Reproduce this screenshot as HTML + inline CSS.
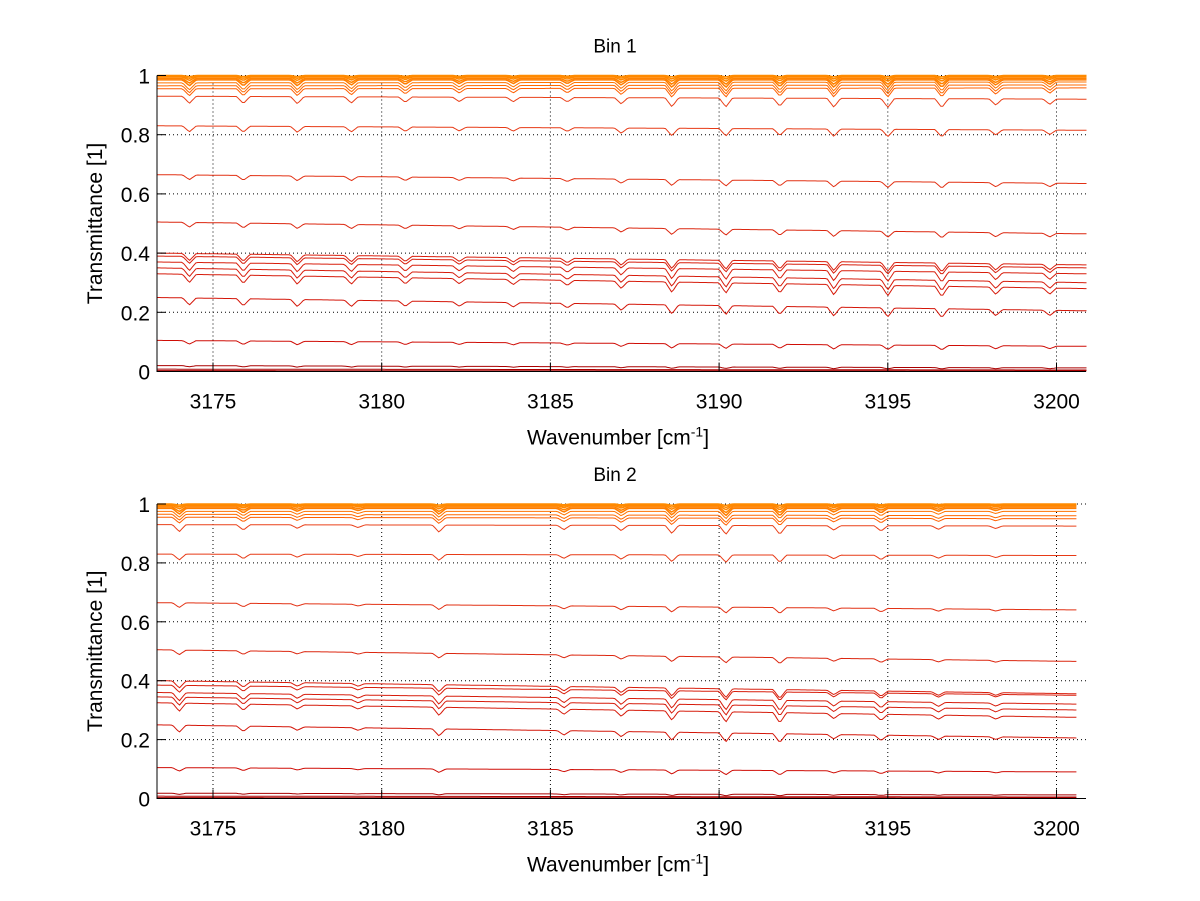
<!DOCTYPE html>
<html><head><meta charset="utf-8"><style>
body{margin:0;background:#fff;}
svg{display:block;font-family:"Liberation Sans",sans-serif;}
</style></head><body>
<svg id="fig" width="1200" height="901" viewBox="0 0 1200 901"></svg>
<script>
// ---- data ----
const xTicks = [3175, 3180, 3185, 3190, 3195, 3200];
const yTicks = [0, 0.2, 0.4, 0.6, 0.8, 1];
const yTickLabels = ["0", "0.2", "0.4", "0.6", "0.8", "1"];
// absorption line centers (cm^-1) and relative strengths
const dipCenters1 = [3174.3,3175.9,3177.5,3179.1,3180.7,3182.3,3183.9,3185.5,3187.1,3188.6,3190.2,3191.8,3193.4,3195.0,3196.6,3198.2,3199.8];
const dipStrength1 = [0.8,0.8,0.8,0.7,0.6,0.5,0.5,0.5,0.7,1.0,1.0,0.9,1.0,1.0,1.0,0.7,0.6];
const dipCenters2 = [3174.0,3175.9,3177.5,3179.3,3181.7,3185.4,3187.1,3188.6,3190.2,3191.8,3193.4,3194.8,3196.5,3198.2];
const dipStrength2 = [0.8,0.6,0.4,0.3,0.8,0.5,0.6,0.9,1.0,1.0,0.5,0.6,0.4,0.3];
// series: level at left edge, level at right edge, dip depth
const startLevels1 = [1.0,0.998,0.995,0.99,0.985,0.975,0.965,0.955,0.93,0.83,0.665,0.505,0.40,0.39,0.37,0.35,0.33,0.25,0.105,0.02,0.008,0.003];
const endLevels1   = [1.0,0.998,0.995,0.99,0.985,0.978,0.968,0.958,0.92,0.815,0.635,0.465,0.36,0.35,0.33,0.30,0.28,0.205,0.085,0.012,0.005,0.002];
const dipDepth1    = [0.005,0.01,0.015,0.02,0.025,0.03,0.03,0.03,0.03,0.025,0.02,0.02,0.03,0.03,0.035,0.035,0.035,0.03,0.015,0.005,0,0];
const startLevels2 = [1.0,0.998,0.995,0.99,0.985,0.975,0.965,0.955,0.93,0.83,0.665,0.505,0.40,0.385,0.36,0.345,0.325,0.25,0.105,0.018,0.008,0.003];
const endLevels2   = [1.0,0.998,0.995,0.99,0.985,0.975,0.96,0.95,0.925,0.825,0.64,0.465,0.355,0.35,0.32,0.30,0.275,0.205,0.09,0.012,0.005,0.002];
const dipDepth2    = [0.005,0.01,0.015,0.02,0.025,0.025,0.025,0.025,0.03,0.025,0.02,0.02,0.03,0.03,0.035,0.035,0.035,0.03,0.015,0.005,0,0];

const NS = "http://www.w3.org/2000/svg";
const svg = document.getElementById("fig");
const X0 = 3173.35, X1 = 3200.92;
function mk(tag, attrs, parent){const e=document.createElementNS(NS,tag);for(const k in attrs)e.setAttribute(k,attrs[k]);(parent||svg).appendChild(e);return e;}
function colorFor(v){
  if(v>=0.95) return "rgb(255,"+Math.round(90+(v-0.95)*1000)+",0)";
  if(v<0.05) return "rgb(170,0,0)";
  const t=(v-0.05)/0.9;
  return "rgb("+Math.round(205+t*30)+","+Math.round(10+t*55)+","+Math.round(5+t*20)+")";
}
function panel(idx, top, bottom, title, centers, strengths, starts, ends, depths, xEnd){
  const left=157, right=1086;
  const sx = v => 213 + (v-3175)*(1056.5-213)/25;
  const sy = v => bottom - v*(bottom-top);
  const g = mk("g",{});
  
  
  const t = mk("text",{x:615,y:top-23,"font-size":19,"text-anchor":"middle",fill:"#000"},g);
  t.textContent=title;
  
  
  xTicks.forEach(v=>{const l=mk("line",{x1:sx(v),x2:sx(v),y1:top,y2:bottom,stroke:"#000","stroke-width":1,"stroke-dasharray":"1,3"},g);
    });
  yTicks.forEach(v=>{if(v===0)return;const l=mk("line",{x1:left,x2:right,y1:sy(v),y2:sy(v),stroke:"#000","stroke-width":1,"stroke-dasharray":"1,3"},g);
    });
  for(let s=0;s<starts.length;s++){
    let d="";
    for(let x=X0;x<=xEnd+1e-9;x+=0.06){
      const f=(x-X0)/(X1-X0);
      let v=starts[s]+(ends[s]-starts[s])*f;
      for(let k=0;k<centers.length;k++){const a=Math.abs(x-centers[k]);if(a<0.2)v-=depths[s]*strengths[k]*(1-a/0.2);}
      d+=(d?"L":"M")+sx(x).toFixed(1)+","+sy(v).toFixed(1);
    }
    const p=mk("path",{d:d,fill:"none",stroke:colorFor(starts[s]),"stroke-width":s<5?1.5:1},g);
    
    
  }
  const ax=mk("path",{d:`M${left},${top}V${bottom}H${right}`,fill:"none",stroke:"#000","stroke-width":1},g);
  
  xTicks.forEach(v=>{
    mk("line",{x1:sx(v),x2:sx(v),y1:bottom,y2:bottom-9,stroke:"#000"},g);
    const tl=mk("text",{x:sx(v),y:bottom+37,"font-size":21,"text-anchor":"middle"},g);
    tl.textContent=String(v);
    
  });
  yTicks.forEach((v,i)=>{
    mk("line",{x1:left,x2:left+9,y1:sy(v),y2:sy(v),stroke:"#000"},g);
    const tl=mk("text",{x:left-7,y:sy(v)+8,"font-size":21,"text-anchor":"end"},g);
    tl.textContent=yTickLabels[i];
    
  });
  const yl=mk("text",{x:0,y:0,"font-size":21,"text-anchor":"middle",transform:`translate(102,${(top+bottom)/2}) rotate(-90)`},g);
  yl.textContent="Transmittance [1]";
  
  const xl=mk("text",{x:618,y:bottom+73,"font-size":21,"text-anchor":"middle"},g);
  xl.innerHTML='Wavenumber [cm<tspan dy="-8" font-size="14">-1</tspan><tspan dy="8">]</tspan>';
  
}
panel(1, 75.5, 371.5, "Bin 1", dipCenters1, dipStrength1, startLevels1, endLevels1, dipDepth1, 3200.9);
panel(2, 504, 798.5, "Bin 2", dipCenters2, dipStrength2, startLevels2, endLevels2, dipDepth2, 3200.6);
</script>
</body></html>
